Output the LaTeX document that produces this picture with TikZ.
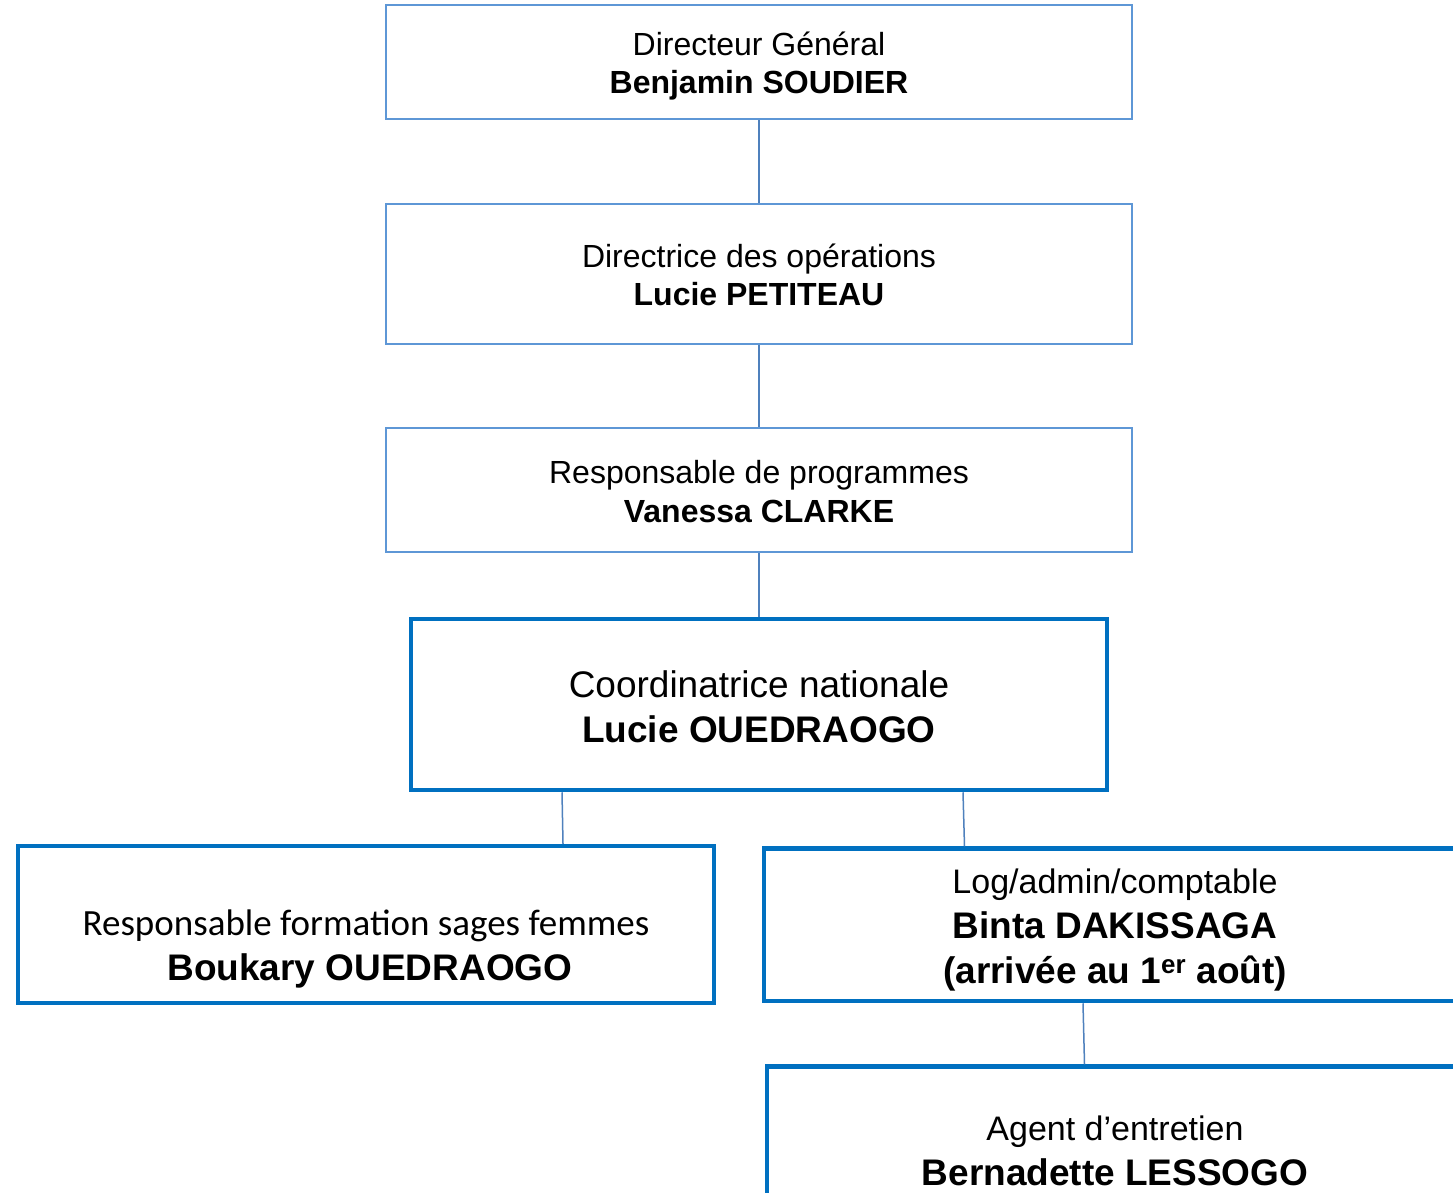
\documentclass[tikz,border=0pt]{standalone}
\usepackage{fontspec}
\setmainfont{Liberation Sans}
\newfontfamily\calib{Carlito}
\definecolor{thinblue}{HTML}{5E97D6}
\definecolor{thickblue}{HTML}{0070C0}
\definecolor{connblue}{HTML}{4F81BD}
\tikzset{
  thinbox/.style={draw=thinblue, line width=2pt, fill=white, rectangle, inner sep=0pt},
  thickbox/.style={draw=thickblue, line width=4.5pt, fill=white, rectangle, inner sep=0pt},
  conn/.style={draw=connblue, line width=1.5pt},
  lbl/.style={anchor=base, inner sep=0pt},
  fa/.style={font=\fontsize{32}{38}\selectfont},
  fb/.style={font=\fontsize{32}{38}\selectfont\bfseries},
  fc/.style={font=\fontsize{37}{44}\selectfont},
  fd/.style={font=\fontsize{37}{44}\selectfont\bfseries},
  fe/.style={font=\fontsize{34}{40}\selectfont},
  ff/.style={font=\fontsize{37}{44}\selectfont\calib},
}
\begin{document}
\begin{tikzpicture}[x=1pt,y=-1pt]
\useasboundingbox (0,0) rectangle (1453,1192);
\clip (0,0) rectangle (1453,1192);
\fill[white] (0,0) rectangle (1453,1192);
% boxes
\node[thinbox, minimum width=746pt, minimum height=114pt] (b1) at (759,62) {};
\node[thinbox, minimum width=746pt, minimum height=140pt] (b2) at (759,274) {};
\node[thinbox, minimum width=746pt, minimum height=124pt] (b3) at (759,490) {};
\node[thickbox, minimum width=696pt, minimum height=171pt] (b4) at (759,704.5) {};
\node[thickbox, minimum width=696pt, minimum height=157pt] (b5) at (366,924.5) {};
\node[thickbox, minimum width=702pt, minimum height=152.5pt] (b6) at (1115,924.75) {};
\node[thickbox, minimum width=696pt, minimum height=129pt] (b7) at (1115,1131) {};
% connectors
\draw[conn] (b1.south) -- (b2.north);
\draw[conn] (b2.south) -- (b3.north);
\draw[conn] (b3.south) -- (b4.north);
\draw[conn] ([xshift=-197pt]b4.south) -- ([xshift=197pt]b5.north);
\draw[conn] ([xshift=204pt]b4.south) -- ([xshift=-150.5pt]b6.north);
\draw[conn] ([xshift=-32pt]b6.south) -- ([xshift=-30.5pt]b7.north);
% labels
\node[lbl, fa] (t1a) at (759,55) {Directeur Général};
\node[lbl, fb] (t1b) at (759,93) {Benjamin SOUDIER};
\node[lbl, fa] (t2a) at (759,267) {Directrice des opérations};
\node[lbl, fb] (t2b) at (759,305) {Lucie PETITEAU};
\node[lbl, fa] (t3a) at (759,483) {Responsable de programmes};
\node[lbl, fb] (t3b) at (759,522) {Vanessa CLARKE};
\node[lbl, fc] (t4a) at (759,697) {Coordinatrice nationale};
\node[lbl, fd] (t4b) at (759,742) {Lucie OUEDRAOGO};
\node[lbl, ff] (t5a) at (366,935) {Responsable formation sages femmes};
\node[lbl, fd] (t5b) at (370,980) {Boukary OUEDRAOGO};
\node[lbl, fe] (t6a) at (1115,893) {Log/admin/comptable};
\node[lbl, fd] (t6b) at (1115,938) {Binta DAKISSAGA};
\node[lbl, fd] (t6c) at (1115,983) {(arrivée au 1\textsuperscript{er} août)};
\node[lbl, fe] (t7a) at (1115,1140) {Agent d’entretien};
\node[lbl, fd] (t7b) at (1115,1185) {Bernadette LESSOGO};
\end{tikzpicture}
\end{document}
